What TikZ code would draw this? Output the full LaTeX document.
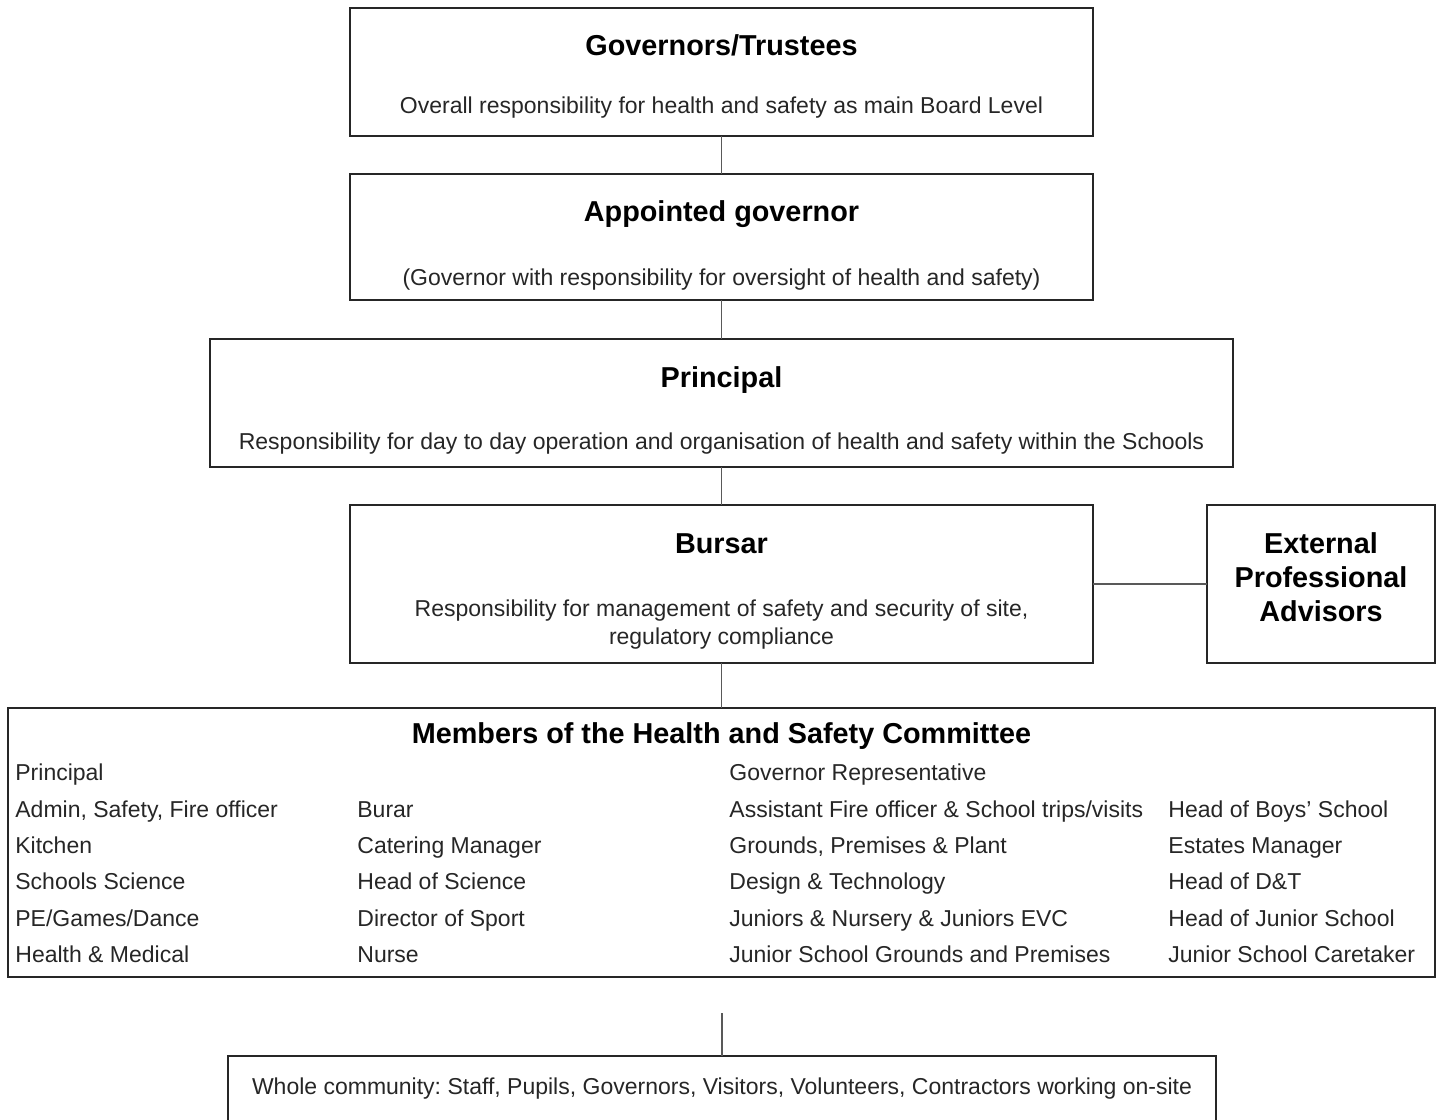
\documentclass[tikz,border=0pt]{standalone}
\usepackage{fontspec}
\setmainfont{Liberation Sans}
\usetikzlibrary{positioning}
\frenchspacing

\begin{document}
\begin{tikzpicture}[x=0.5pt, y=-0.5pt,
  box/.style={draw=black!85, line width=1pt, inner sep=0pt, outer sep=0pt, minimum width=371.5pt},
  link/.style={draw=black!65, line width=0.6pt},
  head/.style={font=\fontsize{14.4}{17}\selectfont\bfseries, inner sep=0pt, anchor=base},
  body/.style={font=\fontsize{11.5}{14}\selectfont, text=black!85, inner sep=0pt, anchor=base},
  item/.style={body, anchor=base west}]
  \useasboundingbox (0,0) rectangle (1444,1119);
  \node[box, minimum height=64pt] (gov) at (721.5,72) {};
  \node[box, minimum height=63pt] (app) [below=19pt of gov] {};
  \node[box, minimum width=511.5pt, minimum height=64pt] (prin) [below=19.5pt of app] {};
  \node[box, minimum height=79pt] (burs) [below=19pt of prin] {};
  \node[box, minimum width=114pt, minimum height=79pt] (ext) [right=57pt of burs] {};
  \node[box, minimum width=713.5pt, minimum height=134.5pt] (comm) [below=22.5pt of burs] {};
  \node[box, minimum width=494pt, minimum height=40pt] (whole) [below=39.5pt of comm, xshift=0.25pt] {};
  \coordinate (gap) at (722,1013);

  \node[head] (govt) at (721.5,55) {Governors/Trustees};
  \node[body] (govb) at (721.5,113) {Overall responsibility for health and safety as main Board Level};
  \node[head] (appt) at (721.5,221) {Appointed governor};
  \node[body] (appb) at (721.5,285) {(Governor with responsibility for oversight of health and safety)};
  \node[head] (print) at (721.5,387) {Principal};
  \node[body] (prinb) at (721.5,449) {Responsibility for day to day operation and organisation of health and safety within the Schools};
  \node[head] (burst) at (721.5,553) {Bursar};
  \node[body] (bursb1) at (721.5,616) {Responsibility for management of safety and security of site,};
  \node[body] (bursb2) at (721.5,644) {regulatory compliance};
  \node[head] (ext1) at (1321,553) {External};
  \node[head] (ext2) at (1321,587) {Professional};
  \node[head] (ext3) at (1321,621) {Advisors};
  \node[head] (commt) at (721.5,743) {Members of the Health and Safety Committee};

  \node[item] (m11) at (15,780) {Principal};
  \node[item] (m13) at (729,780) {Governor Representative};
  \node[item] (m21) at (15,817) {Admin, Safety, Fire officer};
  \node[item] (m22) at (357,817) {Burar};
  \node[item] (m23) at (729,817) {Assistant Fire officer \& School trips/visits};
  \node[item] (m24) at (1168,817) {Head of Boys’ School};
  \node[item] (m31) at (15,853) {Kitchen};
  \node[item] (m32) at (357,853) {Catering Manager};
  \node[item] (m33) at (729,853) {Grounds, Premises \& Plant};
  \node[item] (m34) at (1168,853) {Estates Manager};
  \node[item] (m41) at (15,889) {Schools Science};
  \node[item] (m42) at (357,889) {Head of Science};
  \node[item] (m43) at (729,889) {Design \& Technology};
  \node[item] (m44) at (1168,889) {Head of D\&T};
  \node[item] (m51) at (15,926) {PE/Games/Dance};
  \node[item] (m52) at (357,926) {Director of Sport};
  \node[item] (m53) at (729,926) {Juniors \& Nursery \& Juniors EVC};
  \node[item] (m54) at (1168,926) {Head of Junior School};
  \node[item] (m61) at (15,962) {Health \& Medical};
  \node[item] (m62) at (357,962) {Nurse};
  \node[item] (m63) at (729,962) {Junior School Grounds and Premises};
  \node[item] (m64) at (1168,962) {Junior School Caretaker};

  \node[body] (wholet) at (722,1094) {Whole community: Staff, Pupils, Governors, Visitors, Volunteers, Contractors working on-site};

  \draw[link] (gov) -- (app);
  \draw[link] (app) -- (prin);
  \draw[link] (prin) -- (burs);
  \draw[link] (burs) -- (ext);
  \draw[link] (burs) -- (comm);
  \draw[link] (gap) -- (gap |- whole.north);
\end{tikzpicture}
\end{document}
